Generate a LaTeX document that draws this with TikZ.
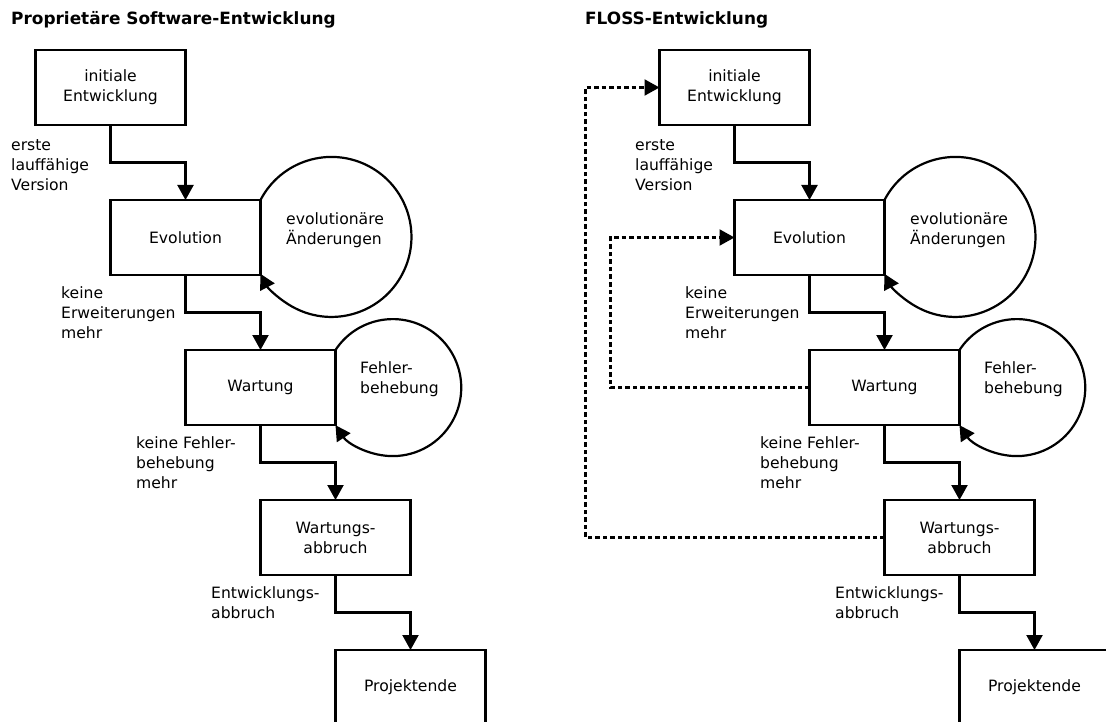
\documentclass[tikz,border=0pt]{standalone}
\usepackage{fontspec}
\setmainfont{DejaVu Sans}
\usetikzlibrary{arrows.meta, positioning}

\begin{document}
\begin{tikzpicture}[
  x=1pt, y=-1pt,
  every node/.style={font=\fontsize{15.6}{20}\selectfont},
  box/.style={draw, rectangle, line width=2.2pt, fill=white,
              minimum width=150pt, minimum height=75pt,
              outer sep=0pt, align=center},
  heading/.style={anchor=base west, inner sep=0pt,
                  font=\fontsize{16.9}{20}\selectfont\bfseries},
  note/.style={anchor=west, inner sep=0pt, align=left},
  edgetext/.style={anchor=west, inner sep=0pt, align=left},
  arrow/.style={-{Triangle[length=15pt, width=16pt]}, line width=2.2pt},
  loopback/.style={arrow, dash pattern=on 4.5pt off 3pt}
]
\useasboundingbox (0,0) rectangle (1106,722);

  % proprietary model
  \node[heading] (ltitle) at (11,25) {Proprietäre Software-Entwicklung};
  \node[box] (linit) at (110.5,87.5) {initiale\\Entwicklung};
  \node[box, below=75pt of linit.south east] (levo)  {Evolution};
  \node[box, below=75pt of levo.south east]  (lwart) {Wartung};
  \node[box, below=75pt of lwart.south east] (labbr) {Wartungs-\\abbruch};
  \node[box, below=75pt of labbr.south east] (lend)  {Projektende};

  \node[note] (levonote)  at (286,230) {evolutionäre\\Änderungen};
  \node[note] (lwartnote) at (360,379) {Fehler-\\behebung};

  \node[edgetext] (lrun)   at (11,165) {erste\\lauffähige\\Version};
  \node[edgetext] (lnoext) at (61,313)   {keine\\Erweiterungen\\mehr};
  \node[edgetext] (lnofix) at (136,463)  {keine Fehler-\\behebung\\mehr};
  \node[edgetext] (lstop)  at (211,603)  {Entwicklungs-\\abbruch};

  \draw[arrow] (linit.south) -- ++(0,37.5) -| (levo.north);
  \draw[arrow] (levo.south)  -- ++(0,37.5) -| (lwart.north);
  \draw[arrow] (lwart.south) -- ++(0,37.5) -| (labbr.north);
  \draw[arrow] (labbr.south) -- ++(0,37.5) -| (lend.north);

  \draw[arrow] (levo.north east) arc[start angle=152.5, end angle=-152.5, radius=80pt];
  \draw[arrow] (lwart.north east) arc[start angle=146.7, end angle=-146.7, radius=68.5pt];

  % FLOSS model
  \node[heading] (rtitle) at (585,25) {FLOSS-Entwicklung};
  \node[box] (rinit) at (734.5,87.5) {initiale\\Entwicklung};
  \node[box, below=75pt of rinit.south east] (revo)  {Evolution};
  \node[box, below=75pt of revo.south east]  (rwart) {Wartung};
  \node[box, below=75pt of rwart.south east] (rabbr) {Wartungs-\\abbruch};
  \node[box, below=75pt of rabbr.south east] (rend)  {Projektende};

  \node[note] (revonote)  at (910,230) {evolutionäre\\Änderungen};
  \node[note] (rwartnote) at (984,379) {Fehler-\\behebung};

  \node[edgetext] (rrun)   at (635,165) {erste\\lauffähige\\Version};
  \node[edgetext] (rnoext) at (685,313)   {keine\\Erweiterungen\\mehr};
  \node[edgetext] (rnofix) at (760,463)   {keine Fehler-\\behebung\\mehr};
  \node[edgetext] (rstop)  at (835,603)   {Entwicklungs-\\abbruch};

  \draw[arrow] (rinit.south) -- ++(0,37.5) -| (revo.north);
  \draw[arrow] (revo.south)  -- ++(0,37.5) -| (rwart.north);
  \draw[arrow] (rwart.south) -- ++(0,37.5) -| (rabbr.north);
  \draw[arrow] (rabbr.south) -- ++(0,37.5) -| (rend.north);

  \draw[arrow] (revo.north east) arc[start angle=152.5, end angle=-152.5, radius=80pt];
  \draw[arrow] (rwart.north east) arc[start angle=146.7, end angle=-146.7, radius=68.5pt];

  \draw[loopback] (rwart.west) -- ++(-199,0) |- (revo.west);
  \draw[loopback] (rabbr.west) -- ++(-299,0) |- (rinit.west);
\end{tikzpicture}
\end{document}
